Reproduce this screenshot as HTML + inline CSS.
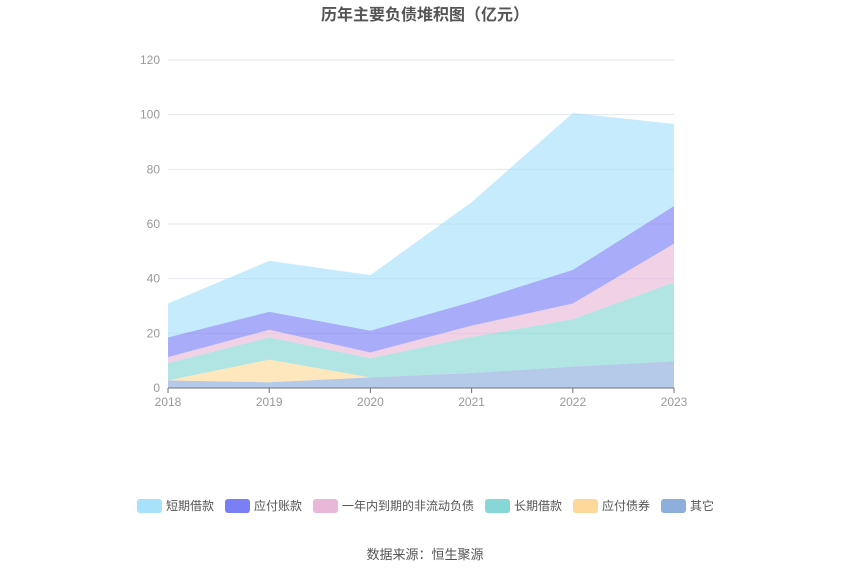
<!DOCTYPE html>
<html><head><meta charset="utf-8"><style>
body{margin:0;background:#fff;font-family:"Liberation Sans","Noto Sans CJK SC",sans-serif;}
#wrap{position:relative;width:850px;height:575px;}
</style></head><body>
<div id="wrap">
<svg id="chart" width="850" height="575"></svg>
</div>
<script>
const years=["2018","2019","2020","2021","2022","2023"];
const yTicks=[0,20,40,60,80,100,120];
const other=[2.8,2.1,3.9,5.5,7.8,9.8];
const bonds=[0,8.3,0,0,0,0];
const longLoan=[6.3,8.1,7.0,13.2,17.4,28.9];
const currentDue=[2.2,2.8,2.1,4.1,5.7,14.1];
const payable=[7.2,6.6,8.0,8.7,12.3,13.8];
const shortLoan=[12.4,18.6,20.3,36.5,57.4,30.0];
const seriesNames=["其它","应付债券","长期借款","一年内到期的非流动负债","应付账款","短期借款"];
const seriesKeys=["other","bonds","long-loan","current-due","payable","short-loan"];
const colors=["#8eaedb","#fdd89a","#86d7d6","#e9b8d9","#7b7ff5","#a8e1fa"];
const seriesData=[other,bonds,longLoan,currentDue,payable,shortLoan];
const NS="http://www.w3.org/2000/svg";
const svg=document.getElementById('chart');
const x0=168,x1=674,y0=388,y1=60;
const xs=i=>x0+(x1-x0)*i/(years.length-1);
const ys=v=>y0-(y0-y1)*v/120;
function mk(t,a){const e=document.createElementNS(NS,t);for(const k in a)e.setAttribute(k,a[k]);svg.appendChild(e);return e;}
let t=mk('text',{x:425,y:20,'text-anchor':'middle','font-size':16,'font-weight':'bold',fill:'#555'});t.textContent='历年主要负债堆积图（亿元）';


yTicks.forEach(v=>{
 const l=mk('line',{x1:x0,x2:x1,y1:ys(v),y2:ys(v),stroke:'#e3e6ee','stroke-width':1});
 
 
 const tx=mk('text',{x:160,y:ys(v)+4,'text-anchor':'end','font-size':12,fill:'#999'});tx.textContent=v;
 
 
});
let cum=years.map(()=>0);
seriesData.forEach((d,s)=>{
 const lo=cum.slice();const hi=cum.map((c,i)=>c+d[i]);
 let p='M'+years.map((_,i)=>xs(i)+','+ys(hi[i])).join(' L');
 for(let i=years.length-1;i>=0;i--)p+=' L'+xs(i)+','+ys(lo[i]);
 const a=mk('path',{d:p+'Z',fill:colors[s],'fill-opacity':0.65,stroke:'none'});
 
 
 cum=hi;
});
const ax=mk('line',{x1:x0,x2:x1,y1:y0,y2:y0,stroke:'#6e7079','stroke-width':1});


years.forEach((y,i)=>{
 const tk=mk('line',{x1:xs(i),x2:xs(i),y1:y0,y2:y0+5,stroke:'#6e7079'});
 
 
 const tx=mk('text',{x:xs(i),y:y0+18,'text-anchor':'middle','font-size':12,fill:'#999'});tx.textContent=y;
 
 
});
// legend
const legOrder=[5,4,3,2,1,0];
const legX=[137,225,313,485,573,661];
legOrder.forEach((s,k)=>{
 const r=mk('rect',{x:legX[k],y:499,width:25,height:14,rx:3,fill:colors[s]});
 
 
 const tx=mk('text',{x:legX[k]+29,y:510,'font-size':12,fill:'#555'});tx.textContent=seriesNames[s];
 
 
});
const src=mk('text',{x:425,y:559,'text-anchor':'middle','font-size':13,fill:'#555'});src.textContent='数据来源：恒生聚源';


</script>
</body></html>
